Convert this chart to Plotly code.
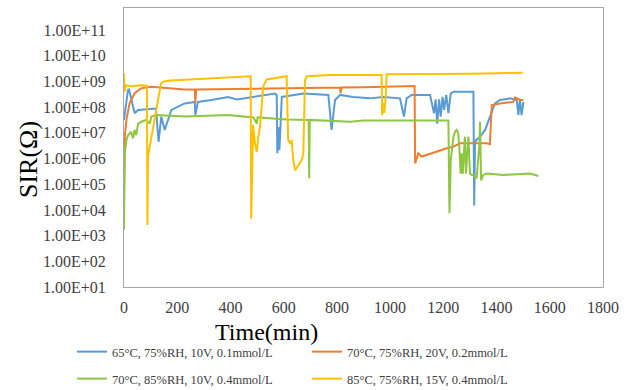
import plotly.graph_objects as go

# ---- data (time in min, SIR in ohm) ----
t_blue = [0, 15, 19, 34, 40, 53, 103, 120, 130, 140, 153, 159, 178, 228, 266, 268, 278, 328, 391, 424, 486, 567, 574, 576, 580, 584, 593, 674, 768, 780, 793, 812, 862, 924, 974, 1037, 1052, 1062, 1081, 1150, 1165, 1171, 1177, 1184, 1190, 1197, 1203, 1211, 1219, 1228, 1238, 1313, 1316, 1319, 1323, 1338, 1357, 1375, 1394, 1413, 1451, 1476, 1482, 1488, 1494, 1501]
v_blue = [3.2e7, 4.7e8, 4.9e8, 1.0e8, 5.8e7, 7.8e7, 8.9e7, 8.9e7, 4.5e6, 4.3e7, 1.3e7, 2.0e7, 7.8e7, 1.4e8, 1.6e8, 4.9e7, 1.6e8, 1.9e8, 2.5e8, 2.0e8, 2.5e8, 3.4e8, 3.0e8, 1.6e6, 1.7e7, 2.1e6, 2.5e8, 3.4e8, 3.0e8, 1.3e7, 1.9e8, 3.0e8, 2.5e8, 2.2e8, 2.5e8, 2.2e8, 4.3e7, 2.2e8, 3.0e8, 3.0e8, 5.8e7, 2.0e8, 2.3e7, 2.0e8, 4.3e7, 2.5e8, 7.8e7, 3.0e8, 5.8e7, 3.4e8, 4.0e8, 4.0e8, 1.5e4, 3.9e6, 5.2e6, 7.1e6, 1.3e7, 4.3e7, 1.4e8, 1.9e8, 2.2e8, 1.9e8, 5.0e7, 2.0e8, 4.9e7, 1.6e8]

t_orange = [0, 3, 9, 21, 40, 64, 101, 228, 266, 268, 271, 350, 500, 700, 812, 814, 817, 900, 1000, 1092, 1094, 1106, 1119, 1138, 1162, 1213, 1238, 1263, 1313, 1363, 1375, 1382, 1413, 1463, 1470, 1488, 1501]
v_orange = [5.9e4, 7.1e6, 3.2e7, 1.4e8, 3.5e8, 5.4e8, 6.2e8, 4.9e8, 4.9e8, 1.4e8, 4.9e8, 5.0e8, 5.2e8, 5.5e8, 5.8e8, 3.5e8, 5.8e8, 6.0e8, 6.2e8, 6.6e8, 6.5e5, 1.6e6, 1.2e6, 1.4e6, 1.6e6, 2.5e6, 2.9e6, 3.9e6, 3.9e6, 3.9e6, 3.6e6, 1.2e8, 1.4e8, 1.6e8, 2.4e8, 1.9e8, 1.9e8]

t_green = [0, 3, 9, 15, 27, 34, 40, 46, 53, 65, 84, 97, 103, 121, 228, 391, 486, 499, 502, 611, 694, 696, 698, 774, 850, 900, 1000, 1100, 1219, 1223, 1228, 1238, 1244, 1250, 1256, 1260, 1263, 1265, 1269, 1273, 1281, 1285, 1294, 1300, 1307, 1313, 1325, 1335, 1338, 1342, 1350, 1363, 1425, 1526, 1557]
v_green = [1.7e3, 1.6e6, 5.2e6, 8.1e6, 1.1e7, 6.2e6, 1.3e7, 8.1e6, 2.3e7, 2.7e7, 3.2e7, 2.3e7, 4.3e7, 4.9e7, 4.3e7, 4.9e7, 4.0e7, 2.3e7, 4.0e7, 3.3e7, 3.2e7, 1.7e5, 3.2e7, 3.0e7, 2.7e7, 3.0e7, 3.0e7, 3.0e7, 3.0e7, 7.4e3, 8.7e5, 7.1e6, 1.1e7, 1.3e7, 9.5e6, 2.9e6, 8.7e5, 2.6e5, 1.6e6, 2.6e5, 7.1e6, 2.6e5, 7.1e6, 2.6e5, 2.3e5, 2.3e5, 1.7e5, 2.9e6, 2.7e7, 1.4e5, 2.3e5, 2.6e5, 2.3e5, 2.6e5, 2.1e5]

t_yellow = [0, 2, 8, 30, 60, 86, 88, 90, 139, 150, 175, 240, 350, 476, 478, 485, 492, 499, 505, 511, 517, 523, 536, 611, 617, 624, 630, 636, 643, 649, 668, 674, 680, 687, 774, 900, 968, 970, 973, 978, 984, 987, 1100, 1300, 1498]
v_yellow = [2.0e9, 4.0e8, 7.0e8, 6.5e8, 7.2e8, 6.8e8, 2.6e3, 1.2e6, 8.5e8, 1.0e9, 1.1e9, 1.2e9, 1.4e9, 1.6e9, 4.5e3, 2.0e7, 4.0e6, 1.8e6, 7.1e6, 1.7e7, 1.0e8, 6.2e8, 1.2e9, 1.6e9, 5.2e6, 4.0e6, 5.2e6, 8.7e5, 3.5e5, 4.3e5, 8.7e5, 1.6e6, 1.1e9, 1.6e9, 1.8e9, 1.8e9, 1.8e9, 4.9e7, 1.5e8, 6.0e7, 3.0e8, 1.9e9, 1.9e9, 2.0e9, 2.2e9]

names = ["65°C, 75%RH, 10V, 0.1mmol/L", "70°C, 75%RH, 20V, 0.2mmol/L",
         "70°C, 85%RH, 10V, 0.4mmol/L", "85°C, 75%RH, 15V, 0.4mmol/L"]
colors = ["#5B9BD5", "#ED7D31", "#8DC63F", "#FFC000"]

x_ticks = [0, 200, 400, 600, 800, 1000, 1200, 1400, 1600, 1800]
y_tickvals = [1e1, 1e2, 1e3, 1e4, 1e5, 1e6, 1e7, 1e8, 1e9, 1e10, 1e11]
y_ticktext = ["1.00E+01", "1.00E+02", "1.00E+03", "1.00E+04", "1.00E+05", "1.00E+06",
              "1.00E+07", "1.00E+08", "1.00E+09", "1.00E+10", "1.00E+11"]

W, H = 636, 390
ML, MR, MT, MB = 124, 33, 8, 103
FONT = "Liberation Serif"

series = [(t_blue, v_blue), (t_orange, v_orange), (t_green, v_green), (t_yellow, v_yellow)]
legend_names = ["legend", "legend2", "legend3", "legend4"]
# legend anchor positions (pixels)
legend_pos = [(72, 352), (307, 352), (72, 379), (307, 379)]

fig = go.Figure()
for i, (tt, vv) in enumerate(series):
    fig.add_trace(go.Scatter(x=tt, y=vv, mode="lines", name=names[i],
                             line=dict(color=colors[i], width=2),
                             legend=legend_names[i]))

layout_legends = {}
for i, ln in enumerate(legend_names):
    px, py = legend_pos[i]
    layout_legends[ln] = dict(x=px / W, y=1 - py / H, xref="container", yref="container",
                              xanchor="left", yanchor="middle", orientation="h",
                              font=dict(family=FONT, size=12.5, color="#404040"),
                              bgcolor="rgba(0,0,0,0)", itemwidth=30)

fig.update_layout(
    width=W, height=H,
    margin=dict(l=ML, r=MR, t=MT, b=MB, autoexpand=False),
    plot_bgcolor="white", paper_bgcolor="white",
    font=dict(family=FONT, color="#404040"),
    showlegend=True,
    **layout_legends,
)
PW, PH = W - ML - MR, H - MT - MB
fig.add_annotation(text="SIR(Ω)", xref="paper", yref="paper",
                   x=(28 - ML) / PW, y=(H - MB - 160) / PH,
                   showarrow=False, textangle=-90, xanchor="center", yanchor="middle",
                   font=dict(family=FONT, size=26, color="#000000"))
fig.add_annotation(text="Time(min)", xref="paper", yref="paper",
                   x=(266 - ML) / PW, y=(H - MB - 332) / PH,
                   showarrow=False, xanchor="center", yanchor="middle",
                   font=dict(family=FONT, size=24, color="#000000"))

fig.update_xaxes(range=[0, 1800], tickvals=x_ticks, showgrid=False, zeroline=False,
                 showline=True, mirror=True, linecolor="#A6A6A6", linewidth=1,
                 ticks="", ticklabelstandoff=6, automargin=False,
                 tickfont=dict(family=FONT, size=16, color="#404040"))
fig.update_yaxes(type="log", range=[1, 11.86], tickvals=y_tickvals, ticktext=y_ticktext,
                 showgrid=False, zeroline=False,
                 showline=True, mirror=True, linecolor="#A6A6A6", linewidth=1,
                 ticks="", ticklabelstandoff=14, automargin=False,
                 tickfont=dict(family=FONT, size=16, color="#404040"))

fig.write_html("out.html", config={"displayModeBar": False},
               post_script="document.body.style.margin='0';document.body.style.padding='0';")
